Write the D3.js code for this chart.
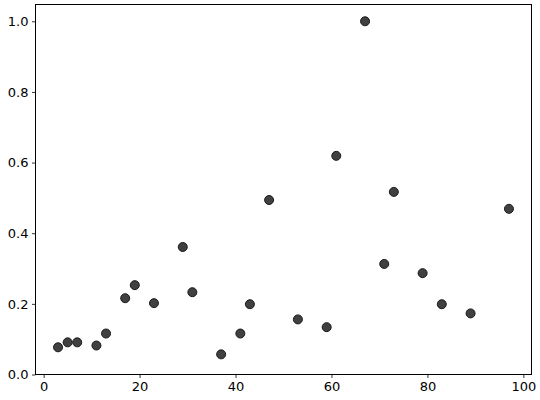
<!DOCTYPE html>
<html><head><meta charset="utf-8">
<script src="https://cdn.jsdelivr.net/npm/d3@7"></script>
<style>body{margin:0;background:#fff}svg{display:block}</style>
</head><body>
<script>
const xValues = [3,5,7,11,13,17,19,23,29,31,37,41,43,47,53,59,61,67,71,73,79,83,89,97];
const yValues = [0.077,0.091,0.091,0.082,0.116,0.216,0.253,0.202,0.361,0.233,0.057,0.116,0.199,0.494,0.156,0.134,0.619,1.0,0.313,0.517,0.287,0.199,0.173,0.469];
const xTicks = [0,20,40,60,80,100];
const yTicks = [0.0,0.2,0.4,0.6,0.8,1.0];

const W=540,H=400;
const m={l:35.5,r:531.5,t:4.5,b:374.5};
const svg=d3.select("body").append("svg").attr("width",W).attr("height",H);
const x=d3.scaleLinear().domain([-1.7,101.7]).range([m.l,m.r]);
const y=d3.scaleLinear().domain([0,1.0475]).range([m.b,m.t]);

svg.append("g").selectAll("circle").data(xValues).join("circle")
  .attr("cx",(d)=>x(d)).attr("cy",(d,i)=>y(yValues[i])).attr("r",4.5)
  .attr("fill","#404040").attr("stroke","#1a1a1a").attr("stroke-width",1);

const xa=svg.append("g").attr("transform",`translate(0,${m.b})`)
  .call(d3.axisBottom(x).tickValues(xTicks).tickSize(3.5).tickPadding(3.5).tickFormat(d3.format("d")));
const ya=svg.append("g").attr("transform",`translate(${m.l},0)`)
  .call(d3.axisLeft(y).tickValues(yTicks).tickSize(3.5).tickPadding(3.5).tickFormat(d3.format(".1f")));
[xa,ya].forEach(a=>{a.select(".domain").remove();a.selectAll("text").attr("font-family","DejaVu Sans").attr("font-size",10*1.25*0.8+"px").attr("fill","#000");a.selectAll("line").attr("stroke","#000").attr("stroke-width",0.8);});
xa.selectAll("text").attr("font-size","13px");
ya.selectAll("text").attr("font-size","13px");

svg.append("rect").attr("x",m.l).attr("y",m.t).attr("width",m.r-m.l).attr("height",m.b-m.t)
  .attr("fill","none").attr("stroke","#000").attr("stroke-width",1);
</script>
</body></html>
